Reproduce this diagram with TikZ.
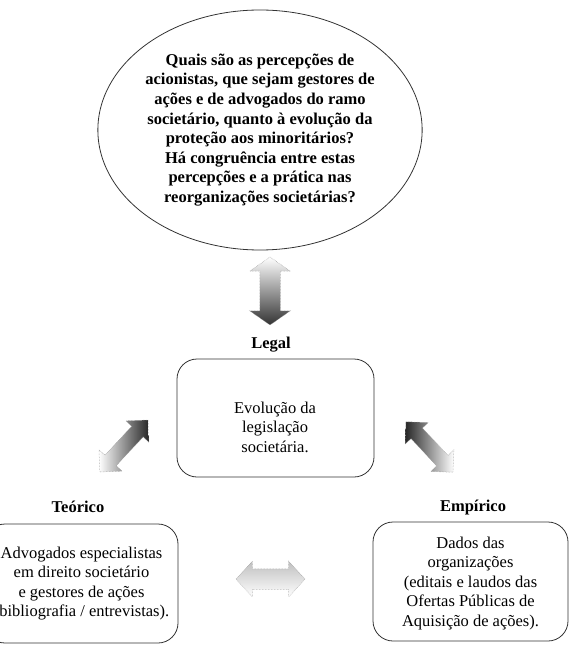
\documentclass[tikz,border=0pt]{standalone}
\usepackage{fontspec}
\setmainfont{Liberation Serif}
\usetikzlibrary{shapes.geometric,shapes.arrows}

\begin{document}
\begin{tikzpicture}[x=1pt,y=1pt]
        \useasboundingbox (0,0) rectangle (573,-652);
        \begin{scope}[every node/.style={align=center, font=\fontsize{16.5}{19.6}\selectfont}]
                \node [ellipse, draw=black!80, line width=0.8pt, minimum width=278pt, minimum height=240pt, inner sep=0pt, font=\bfseries\fontsize{16.5}{19.6}\selectfont] (Q) at (260,-130)
                        {Quais são as percepções de\\acionistas, que sejam gestores de\\ações e de advogados do ramo\\societário, quanto à evolução da\\proteção aos minoritários?\\Há congruência entre estas\\percepções e a prática nas\\reorganizações societárias?};
                \node [draw=black!80, line width=0.8pt, rounded corners=20pt, minimum width=197pt, minimum height=118pt] (legal) at (275.5,-418) {};
                \node (legaltext) at (275,-427) {Evolução da\\legislação\\societária.};
                \node [draw=black!80, line width=0.8pt, rounded corners=20pt, minimum width=193pt, minimum height=119pt] (teo) at (81.5,-583.5)
                        {Advogados especialistas\\em direito societário\\e gestores de ações\\(bibliografia / entrevistas).};
                \node [draw=black!80, line width=0.8pt, rounded corners=20pt, minimum width=195pt, minimum height=119pt, text depth=0pt] (emp) at (470.5,-581.5)
                        {Dados das\\organizações\\(editais e laudos das\\Ofertas Públicas de\\Aquisição de ações).};
                \node [font=\bfseries\fontsize{16.5}{19.6}\selectfont] (legallbl) at (271,-345) {Legal};
                \node [font=\bfseries\fontsize{16.5}{19.6}\selectfont] (teolbl) at (78,-507) {Teórico};
                \node [font=\bfseries\fontsize{16.5}{19.6}\selectfont] (emplbl) at (473,-508) {Empírico};
        \end{scope}

        \begin{scope}[every node/.style={double arrow, draw=gray!80, densely dotted, line width=0.5pt, inner xsep=0pt}]
                \node [inner xsep=10pt, inner ysep=0pt, minimum height=68pt, double arrow head extend=10pt, double arrow tip angle=110, shape border rotate=90, top color=white, bottom color=black!80] (QL) at (270,-291) {};
                \node [inner ysep=7.5pt, minimum height=71pt, double arrow head extend=8pt, double arrow tip angle=90, rotate=47, left color=white, right color=black!85] (TL) at (124,-446) {};
                \node [inner ysep=7.5pt, minimum height=69pt, double arrow head extend=8pt, double arrow tip angle=90, rotate=133, left color=black!85, right color=white] (EL) at (429.5,-447) {};
                \node [inner ysep=10pt, minimum height=69pt, double arrow head extend=7.5pt, double arrow tip angle=95, top color=gray!50, middle color=gray!85, bottom color=white] (TE) at (270.5,-579) {};
        \end{scope}
\end{tikzpicture}
\end{document}
